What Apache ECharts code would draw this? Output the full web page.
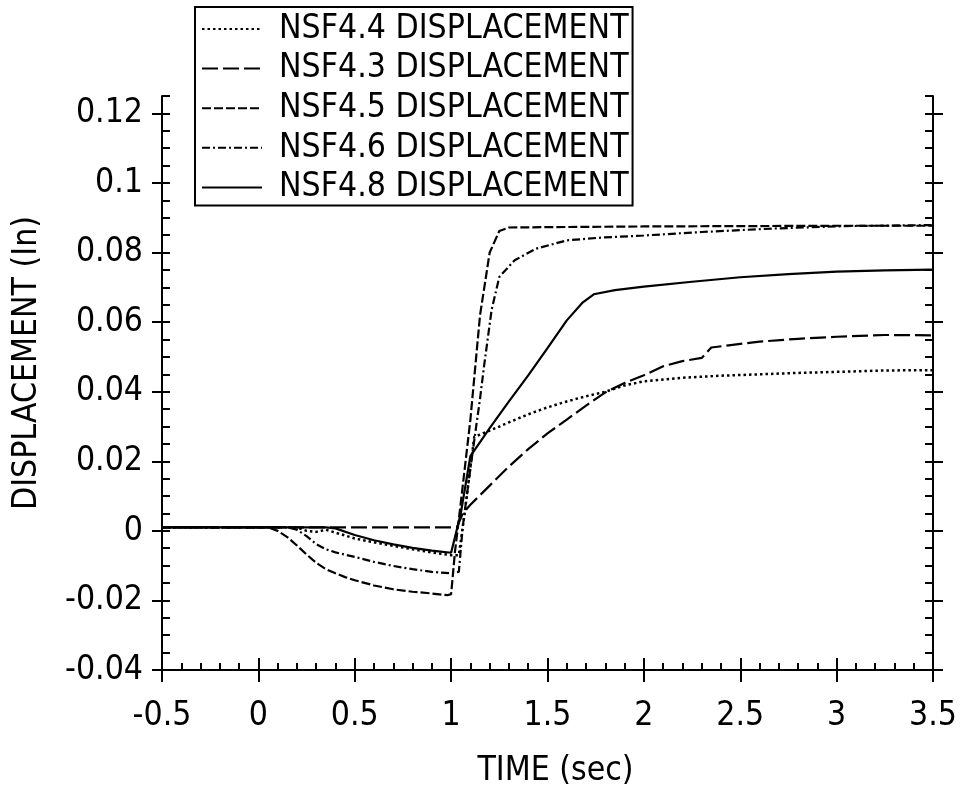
<!DOCTYPE html>
<html>
<head>
<meta charset="utf-8">
<script src="https://cdn.jsdelivr.net/npm/echarts@6/dist/echarts.min.js"></script>
<style>
html,body{margin:0;padding:0;background:#fff;}
#chart{width:961px;height:794px;}
</style>
</head>
<body>
<div id="chart"></div>
<script>
// ---- data (time in sec, displacement in inches) ----
const seriesNames = ['NSF4.4 DISPLACEMENT','NSF4.3 DISPLACEMENT','NSF4.5 DISPLACEMENT','NSF4.6 DISPLACEMENT','NSF4.8 DISPLACEMENT'];

const tNSF44 = [-0.5,0,0.2,0.25,0.3,0.35,0.4,0.5,0.6,0.7,0.8,0.9,1.0,1.04,1.07,1.12,1.2,1.3,1.4,1.5,1.6,1.7,1.8,1.9,2.0,2.2,2.4,2.6,2.8,3.0,3.25,3.5];
const vNSF44 = [0.001,0.001,0.001,0.0,-0.0003,0.0003,-0.0005,-0.0022,-0.0033,-0.0043,-0.0053,-0.0062,-0.0070,-0.0070,0.005,0.027,0.0288,0.0312,0.0335,0.0355,0.0372,0.0387,0.0400,0.0418,0.0430,0.0440,0.0446,0.0450,0.0454,0.0457,0.0461,0.0462];

const tNSF43 = [-0.5,0,0.5,1.0,1.03,1.06,1.1,1.2,1.3,1.4,1.5,1.6,1.7,1.8,1.9,2.0,2.1,2.2,2.3,2.35,2.45,2.6,2.8,3.0,3.25,3.5];
const vNSF43 = [0.001,0.001,0.001,0.001,0.001,0.005,0.0075,0.013,0.0185,0.0235,0.028,0.032,0.036,0.0398,0.0425,0.0447,0.0473,0.0488,0.0497,0.0527,0.0534,0.0544,0.0552,0.0558,0.0563,0.0562];

const tNSF45 = [-0.5,0,0.05,0.1,0.15,0.2,0.25,0.3,0.35,0.4,0.45,0.5,0.6,0.7,0.8,0.9,0.98,1.0,1.02,1.05,1.1,1.15,1.2,1.25,1.3,1.5,2.0,2.5,3.0,3.5];
const vNSF45 = [0.001,0.001,0.001,0.0,-0.0018,-0.0042,-0.0068,-0.0092,-0.0110,-0.0122,-0.0133,-0.0142,-0.0157,-0.0168,-0.0175,-0.0180,-0.0185,-0.0182,-0.006,0.008,0.032,0.062,0.080,0.0862,0.0872,0.0873,0.0875,0.0876,0.0877,0.0877];

const tNSF46 = [-0.5,0,0.15,0.2,0.25,0.3,0.35,0.4,0.5,0.6,0.7,0.8,0.9,1.0,1.04,1.06,1.1,1.15,1.17,1.21,1.25,1.33,1.44,1.6,1.78,2.0,2.3,2.67,3.04,3.5];
const vNSF46 = [0.001,0.001,0.001,0.0003,-0.0015,-0.0038,-0.0053,-0.0062,-0.0075,-0.0089,-0.0101,-0.011,-0.0118,-0.0122,-0.0118,0.001,0.018,0.038,0.047,0.0635,0.073,0.0778,0.0811,0.0835,0.0843,0.0849,0.0859,0.0869,0.0876,0.0879];

const tNSF48 = [-0.5,0,0.35,0.4,0.5,0.6,0.7,0.8,0.9,1.0,1.05,1.1,1.2,1.3,1.4,1.5,1.6,1.68,1.74,1.85,2.0,2.25,2.5,2.75,3.0,3.25,3.5];
const vNSF48 = [0.001,0.001,0.001,0.0007,-0.0012,-0.0027,-0.0039,-0.0049,-0.0057,-0.0063,0.005,0.0215,0.0295,0.0372,0.0447,0.0525,0.0605,0.0655,0.0680,0.0692,0.0702,0.0716,0.0729,0.0738,0.0745,0.0749,0.0751];

const xTicks = [-0.5,0,0.5,1,1.5,2,2.5,3,3.5];
const yTicks = [-0.04,-0.02,0,0.02,0.04,0.06,0.08,0.1,0.12];
const xName = 'TIME (sec)';
const yName = 'DISPLACEMENT (In)';

// ---- build ----
function zip(t, v){ return t.map((x,i)=>[x, v[i]]); }
const seriesT = [tNSF44,tNSF43,tNSF45,tNSF46,tNSF48];
const seriesV = [vNSF44,vNSF43,vNSF45,vNSF46,vNSF48];
const dashes = [[2.5,3],[16,5],[9,3],[8,3,2,3],'solid'];
const widths = [2.5,2.2,2.2,2.2,2.2];

const FONT = "'DejaVu Sans Condensed','Liberation Sans Narrow',sans-serif";
const FS = 33.5;
const gridRect = {left:162, right:28, top:96, bottom:124};
const yMin = -0.04, yMax = 0.125, xMin = -0.5, xMax = 3.5;

const chart = echarts.init(document.getElementById('chart'), null, {renderer:'canvas'});
const axisLine = {show:true, onZero:false, lineStyle:{color:'#000', width:2}};
const noLine = {show:false, onZero:false};

const option = {
  animation:false,
  backgroundColor:'#fff',
  textStyle:{fontFamily:FONT, color:'#000'},
  grid:[Object.assign({}, gridRect), Object.assign({}, gridRect)],
  legend:{
    orient:'vertical', left:195, top:7,
    padding:[4,4,0,6],
    itemWidth:60, itemHeight:20, itemGap:3.6,
    backgroundColor:'#fff', borderColor:'#000', borderWidth:2,
    itemStyle:{opacity:0},
    textStyle:{fontFamily:FONT, fontSize:FS, color:'#000', lineHeight:36, padding:[0,0,0,12]},
    data:seriesNames
  },
  xAxis:[
    {type:'value', gridIndex:0, position:'bottom', min:xMin, max:xMax, interval:0.5,
     axisLine:axisLine,
     axisTick:{show:true, inside:false, length:12, lineStyle:{color:'#000', width:2}, customValues:xTicks},
     axisLabel:{show:true, margin:29, fontFamily:FONT, fontSize:FS, color:'#000', customValues:xTicks},
     splitLine:{show:false},
     name:xName, nameLocation:'middle', nameGap:84,
     nameTextStyle:{fontFamily:FONT, fontSize:FS, color:'#000', padding:[0,0,0,16]}},
    {type:'value', gridIndex:1, position:'bottom', min:xMin, max:xMax, interval:0.5,
     axisLine:noLine,
     axisTick:{show:true, inside:true, length:12, lineStyle:{color:'#000', width:2}},
     minorTick:{show:true, splitNumber:5, length:7, lineStyle:{color:'#000', width:2}},
     axisLabel:{show:false}, splitLine:{show:false}}
  ],
  yAxis:[
    {type:'value', gridIndex:0, position:'left', min:yMin, max:yMax,
     axisLine:axisLine,
     axisTick:{show:true, inside:false, length:10, lineStyle:{color:'#000', width:2}, customValues:yTicks},
     axisLabel:{show:true, margin:19, fontFamily:FONT, fontSize:FS, color:'#000', customValues:yTicks},
     splitLine:{show:false},
     name:yName, nameLocation:'middle', nameGap:118,
     nameTextStyle:{fontFamily:FONT, fontSize:FS, color:'#000', padding:[0,0,0,40]}},
    {type:'value', gridIndex:0, position:'right', min:yMin, max:yMax,
     axisLine:axisLine,
     axisTick:{show:true, inside:false, length:10, lineStyle:{color:'#000', width:2}, customValues:yTicks},
     axisLabel:{show:false}, splitLine:{show:false}},
    {type:'value', gridIndex:1, position:'left', min:yMin, max:yMax, interval:0.005,
     axisLine:noLine,
     axisTick:{show:true, inside:true, length:8, lineStyle:{color:'#000', width:2}},
     axisLabel:{show:false}, splitLine:{show:false}},
    {type:'value', gridIndex:1, position:'right', min:yMin, max:yMax, interval:0.005,
     axisLine:noLine,
     axisTick:{show:true, inside:true, length:8, lineStyle:{color:'#000', width:2}},
     axisLabel:{show:false}, splitLine:{show:false}}
  ],
  series: seriesNames.map((n,i)=>({
    name:n, type:'line', xAxisIndex:0, yAxisIndex:0,
    data: zip(seriesT[i], seriesV[i]),
    symbol:'none', smooth:false,
    lineStyle:{color:'#000', width:widths[i], type:dashes[i]},
    itemStyle:{color:'#000'}
  }))
};
chart.setOption(option);
</script>
</body>
</html>
